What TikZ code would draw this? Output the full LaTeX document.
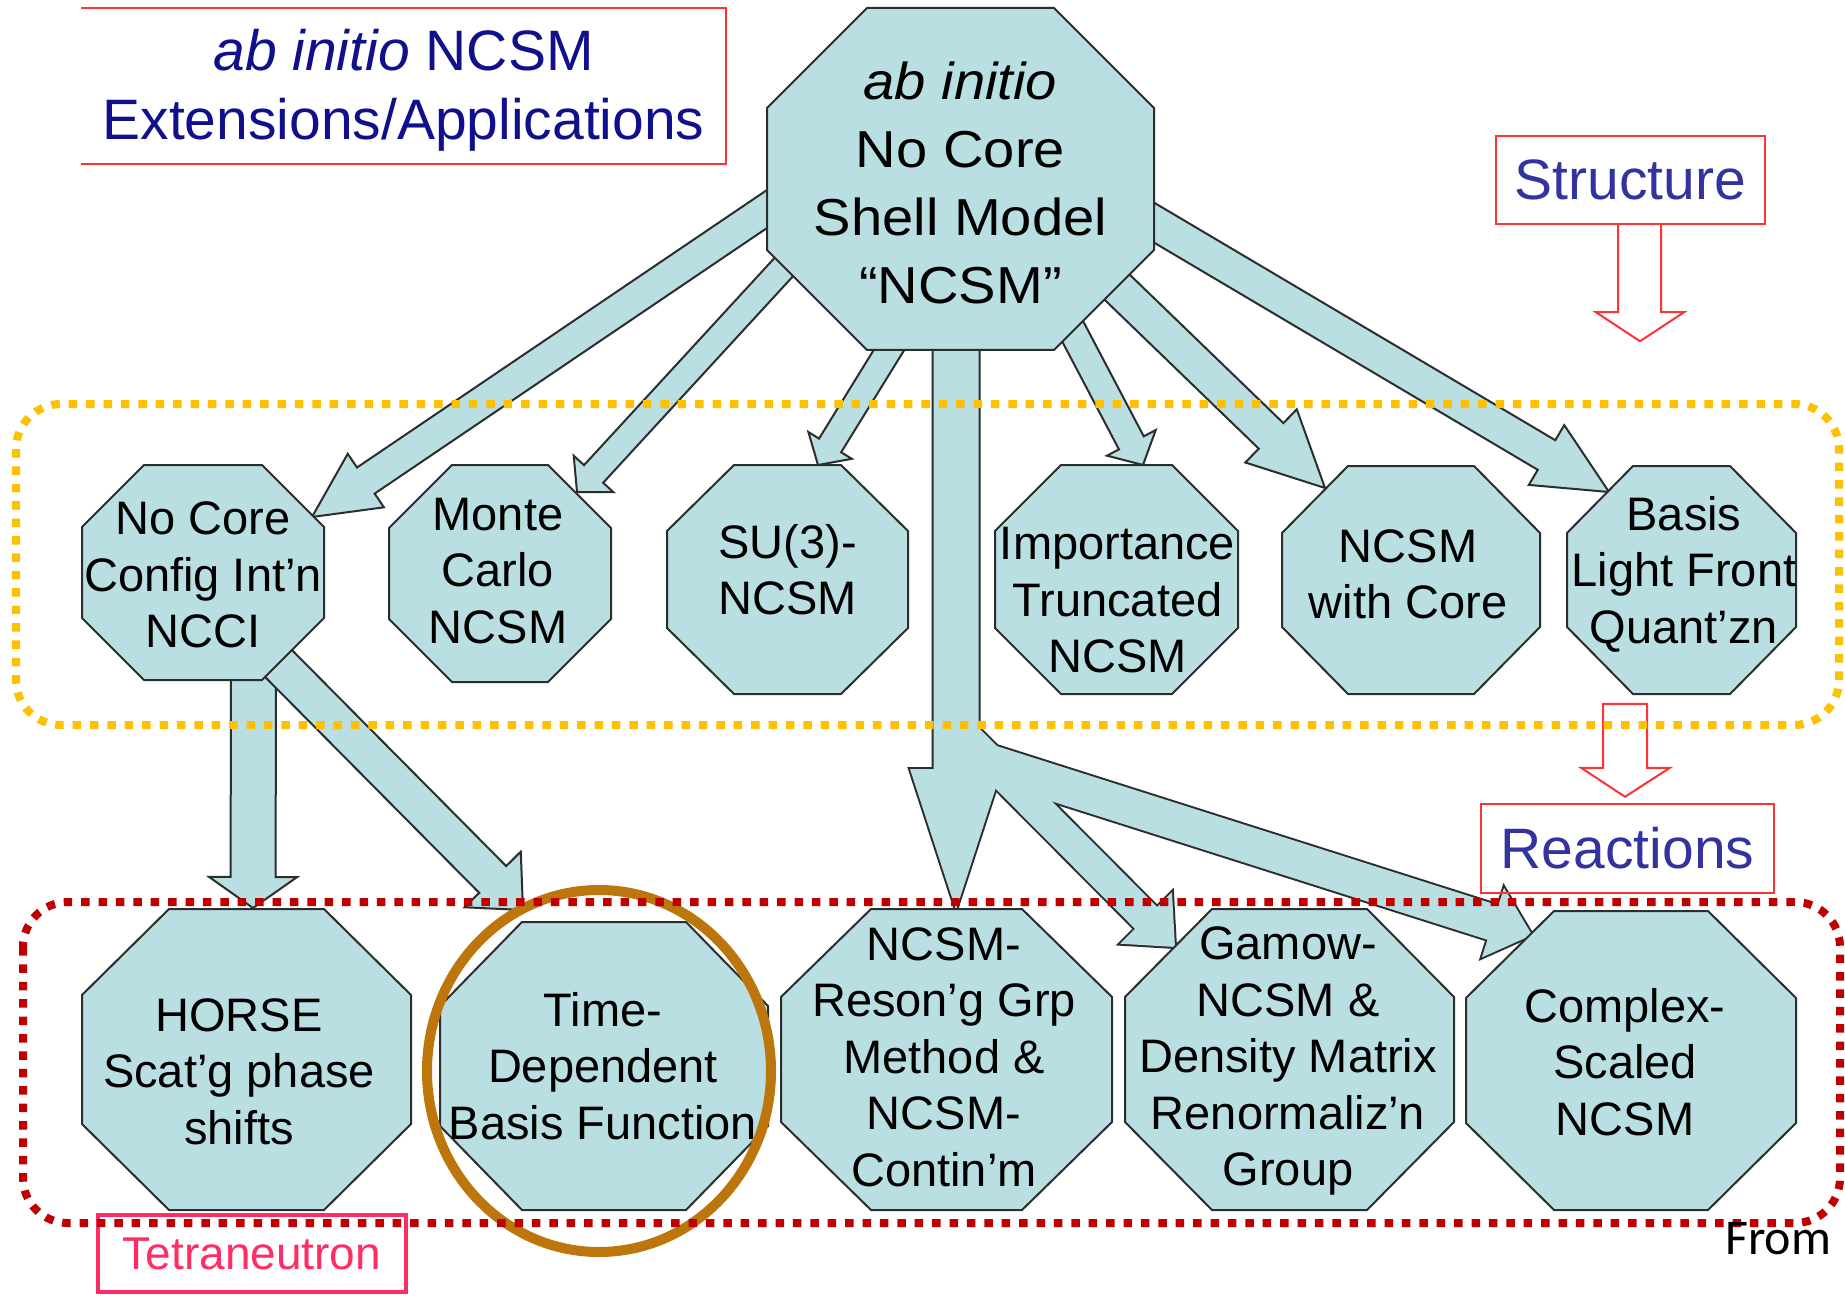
\documentclass[tikz,border=0pt]{standalone}
\usepackage{fontspec}
\setmainfont{Liberation Sans}
\newfontfamily\stretchsans[FakeStretch=1.08]{Liberation Sans}
\newfontfamily\fromfont{Carlito}
\usetikzlibrary{calc}
\definecolor{octfill}{RGB}{185,223,227}
\definecolor{octline}{RGB}{45,45,45}
\definecolor{navytxt}{RGB}{16,16,140}
\definecolor{indigotxt}{RGB}{51,51,160}
\definecolor{boxred}{RGB}{255,50,50}
\definecolor{pinkred}{RGB}{255,45,100}
\definecolor{dotyellow}{RGB}{255,192,0}
\definecolor{dotred}{RGB}{192,0,0}
\definecolor{ellbrown}{RGB}{188,118,12}
\newcommand\octfont{\fontsize{47}{56.5}\selectfont}
\tikzset{
  octagon/.style={fill=octfill, draw=octline, line width=2pt, line join=miter},
  octtext/.style={align=center, inner sep=0pt, font=\octfont},
  arrowfill/.style={fill=octfill, draw=octline, line width=2pt, line join=miter},
  arrowline/.style={draw=octline, line width=4pt, line join=miter},
  arrowonly/.style={fill=octfill},
  hollow/.style={draw=boxred, line width=2pt, line join=miter},
  labelbox/.style={draw=boxred, line width=2.5pt, inner sep=0pt},
  dotbox/.style={line width=8pt, dash pattern=on 8.5pt off 8.9pt, rounded corners=45pt}
}
% block arrow: #2 start, #3 tip, #4 half shaft width, #5 half head width, #6 head length
\newcommand\barrow[6][arrowfill]{%
  \coordinate (bS) at ($(#2)!-15pt!(#3)$);
  \coordinate (bB) at ($(#3)!#6!(#2)$);
  \path[#1] ($(bS)!#4!90:(#3)$) -- ($(bB)!#4!90:(#3)$) -- ($(bB)!#5!90:(#3)$) -- (#3)
    -- ($(bB)!#5!-90:(#3)$) -- ($(bB)!#4!-90:(#3)$) -- ($(bS)!#4!-90:(#3)$) -- cycle;
}
% octagon: #1 name, #2 cx, #3 cy, #4 half width, #5 half height, #6 chamfer x, #7 chamfer y, #8 text position, #9 text
\newcommand\octa[9]{%
  \path[octagon] ({#2-#4+#6},{#3-#5}) -- ({#2+#4-#6},{#3-#5}) -- ({#2+#4},{#3-#5+#7})
    -- ({#2+#4},{#3+#5-#7}) -- ({#2+#4-#6},{#3+#5}) -- ({#2-#4+#6},{#3+#5})
    -- ({#2-#4},{#3+#5-#7}) -- ({#2-#4},{#3-#5+#7}) -- cycle;
  \node[octtext] (#1) at (#8) {#9};
}
\begin{document}
\begin{tikzpicture}[x=1pt,y=-1pt]
\useasboundingbox (0,0) rectangle (1845,1297);
\fill[white] (0,0) rectangle (1845,1297);

% arrow end points
\coordinate (a1s) at (767,209);    \coordinate (a1t) at (312,517);
\coordinate (a2s) at (782,269);    \coordinate (a2t) at (577,492);
\coordinate (a3s) at (889,350);    \coordinate (a3t) at (818,465);
\coordinate (a4s) at (956,350);    \coordinate (a4t) at (956,910);
\coordinate (a5s) at (1073,332);   \coordinate (a5t) at (1143,465);
\coordinate (a6s) at (1118.5,288.5); \coordinate (a6t) at (1325,488);
\coordinate (a7s) at (1153,222);   \coordinate (a7t) at (1609,492);
\coordinate (a8s) at (253.5,680);  \coordinate (a8t) at (253,908);
\coordinate (a9s) at (278,663);    \coordinate (a9t) at (523,910);
\coordinate (a10s) at (956,727);   \coordinate (a10t) at (1175,947);
\coordinate (a11s) at (956,752);   \coordinate (a11t) at (1532,935);

% arrows from NCCI
\barrow{a8s}{a8t}{22.5pt}{44pt}{31pt}
\barrow{a9s}{a9t}{19pt}{39.5pt}{43pt}
% arrows from the main octagon
\barrow{a1s}{a1t}{15.75pt}{32.3pt}{65pt}
\barrow{a2s}{a2t}{13pt}{27pt}{24.5pt}
\barrow{a3s}{a3t}{13pt}{25.5pt}{23pt}
\barrow{a5s}{a5t}{14pt}{27.5pt}{25pt}
\barrow{a6s}{a6t}{17.75pt}{37pt}{75pt}
\barrow{a7s}{a7t}{17.2pt}{34.75pt}{72.6pt}
% merged trunk with branches
\barrow[arrowline]{a4s}{a4t}{22.5pt}{46pt}{141pt}
\barrow[arrowline]{a10s}{a10t}{15.5pt}{36.5pt}{41pt}
\barrow[arrowline]{a11s}{a11t}{18pt}{36.5pt}{41pt}
\barrow[arrowonly]{a4s}{a4t}{22.5pt}{46pt}{141pt}
\barrow[arrowonly]{a10s}{a10t}{15.5pt}{36.5pt}{41pt}
\barrow[arrowonly]{a11s}{a11t}{18pt}{36.5pt}{41pt}

% main octagon
\begin{scope}
\renewcommand\octfont{\stretchsans\fontsize{52}{68}\selectfont}
\octa{main}{960.5}{179}{193.5}{171}{100}{100}{960.5,188.4}{\strut\textit{ab initio}\\\strut No Core\\\strut Shell Model\\\strut “NCSM”}
\end{scope}

% structure row
\octa{ncci}{203}{572.5}{121}{107.5}{62}{62}{203,579.8}{\strut No Core\\\strut Config Int’n\\\strut NCCI}
\octa{monte}{500}{573.5}{111}{108.5}{63}{63}{498,575.3}{\strut Monte\\\strut Carlo\\\strut NCSM}
\octa{su3}{787.5}{579.5}{120.5}{114.5}{67}{66}{787.5,575.3}{\strut SU(3)-\\\strut NCSM}
\octa{itncsm}{1116.5}{579.5}{121.5}{114.5}{66}{66}{1117.5,604.8}{\strut Importance\\\strut Truncated\\\strut NCSM}
\octa{withcore}{1411}{580}{129}{114}{66}{67}{1408,579.3}{\strut NCSM\\\strut with Core}
\octa{blfq}{1681.5}{580}{114.5}{114}{66}{67}{1684,575.3}{\strut Basis\\\strut Light Front\\\strut Quant’zn}

% reactions row
\octa{horse}{246.5}{1059.5}{164.5}{150.5}{87}{86}{239,1076.2}{\strut HORSE\\\strut Scat’g phase\\\strut shifts}
\octa{tdbf}{604}{1066}{164}{144}{82}{84}{603,1071.2}{\strut Time-\\\strut Dependent\\\strut Basis Function}
\octa{rgm}{946.5}{1059.5}{165.5}{150.5}{90}{88}{944,1061.7}{\strut NCSM-\\\strut Reson’g Grp\\\strut Method \&\\\strut NCSM-\\\strut Contin’m}
\octa{gamow}{1289.5}{1059.5}{164.5}{150.5}{87}{88}{1288,1061.2}{\strut Gamow-\\\strut NCSM \&\\\strut Density Matrix\\\strut Renormaliz’n\\\strut Group}
\octa{csm}{1631}{1060.5}{165}{149.5}{88}{87}{1625,1067.2}{\strut Complex-\\\strut Scaled\\\strut NCSM}

% highlight ellipse
\draw[ellbrown, line width=10pt] (599,1071) ellipse [x radius=172, y radius=181];

% title
\node[align=center, inner sep=0pt, text=navytxt, font=\fontsize{57}{69}\selectfont] (title) at (403.5,91.7)
  {\strut\textit{ab initio} NCSM\\\strut Extensions/Applications};
\draw[boxred, line width=2.5pt] (81,8) -- (726,8) -- (726,164) -- (81,164);

% Structure / Reactions labels
\node[labelbox, minimum width=269pt, minimum height=88pt, text=indigotxt, font=\fontsize{57}{68}\selectfont] (structure) at (1630.5,180) {Structure};
\draw[hollow] ($(structure.south)+(-12.5,0)$) -- ++(0,87) -- ++(-22,0) -- ++(44,29) -- ++(44,-29) -- ++(-23,0) -- ++(0,-87);
\node[labelbox, minimum width=293pt, minimum height=89pt, text=indigotxt, font=\fontsize{57}{68}\selectfont] (reactions) at (1627.5,848.5) {Reactions};
\coordinate (rtip) at ($(reactions.north)+(-2.5,-6)$);
\draw[hollow] ($(rtip)+(-22,-93)$) -- ++(44,0) -- ++(0,64) -- ++(23,0) -- (rtip) -- ++(-44,-29) -- ++(22,0) -- cycle;

% Tetraneutron label
\node[draw=pinkred, line width=4pt, inner sep=0pt, minimum width=308pt, minimum height=77pt, text=pinkred, font=\fontsize{46}{55}\selectfont] (tetra) at (252,1253.5) {Tetraneutron};

% dotted group frames
\draw[dotbox, dotyellow] (16,404) rectangle (1839,725);
\draw[dotbox, dotred] (23,902) rectangle (1840,1223);

% source note
\node[anchor=base west, inner sep=0pt, font=\fromfont\fontsize{50}{59}\selectfont] (from) at (1725,1254) {From};
\end{tikzpicture}
\end{document}
